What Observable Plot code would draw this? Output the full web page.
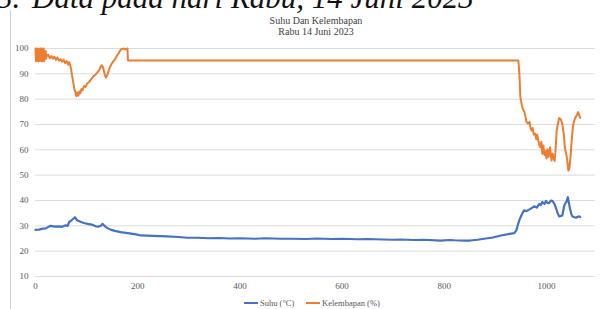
<!DOCTYPE html>
<html>
<head>
<meta charset="utf-8">
<script src="https://cdn.jsdelivr.net/npm/d3@7"></script>
<script src="https://cdn.jsdelivr.net/npm/@observablehq/plot@0.6"></script>
<style>
  html, body { margin: 0; padding: 0; background: #fff; }
  #wrap { position: relative; width: 610px; height: 309px; overflow: hidden; background: #fff; }
  .heading { position: absolute; top: -18px; font-family: "Liberation Serif", serif; font-style: italic; font-size: 31px; line-height: 31px; color: #111; white-space: pre; }
  #frame { position: absolute; left: 10px; top: 10px; width: 0; height: 299px; border-left: 1px solid #d0d0d0; }
  #title { position: absolute; left: 0; width: 632px; top: 15px; text-align: center; font-family: "Liberation Serif", serif; font-size: 10px; line-height: 11px; color: #404040; }
  #chart { position: absolute; left: 0; top: 0; }
  #chart svg, #chart svg text { font-family: "Liberation Serif", serif !important; }
  .leg { position: absolute; top: 298px; font-family: "Liberation Serif", serif; font-size: 8.5px; line-height: 11px; color: #595959; white-space: nowrap; }
  .sw { display: inline-block; width: 14px; height: 2px; vertical-align: middle; margin-right: 2px; position: relative; top: -1px; }
</style>
</head>
<body>
<div id="wrap">
  <div class="heading" style="left:-3px">3.</div>
  <div class="heading" style="left:32px">Data pada hari Rabu, 14 Juni 2023</div>
  <div id="frame"></div>
  <div id="chart"></div>
  <div id="title">Suhu Dan Kelembapan<br>Rabu 14 Juni 2023</div>
  <div class="leg" id="leg1" style="left:244px"><span class="sw" style="background:#4472C4"></span>Suhu (°C)</div>
  <div class="leg" id="leg2" style="left:306px"><span class="sw" style="background:#ED7D31"></span>Kelembapan (%)</div>
</div>
<script>
const yTicks = [10, 20, 30, 40, 50, 60, 70, 80, 90, 100];
const xTicks = [0, 200, 400, 600, 800, 1000];

const seriesNames = ["Suhu (°C)", "Kelembapan (%)"];
const seriesColors = ["#4472C4", "#ED7D31"];

// Suhu (temperature)
const tempIdx = [0, 7, 14, 20, 27, 30, 38, 46, 52, 59, 63, 66, 69, 72, 75, 77, 80, 82, 86, 89, 95, 102, 110, 118, 124, 128, 131, 134, 138, 142, 147, 155, 167, 177, 187, 197, 206, 230, 258, 280, 297, 317, 340, 360, 380, 400, 430, 450, 480, 500, 530, 550, 580, 600, 630, 650, 680, 700, 715, 740, 760, 793, 810, 820, 840, 851, 865, 878, 895, 911, 925, 937, 941, 945, 948, 952, 956, 961, 966, 971, 976, 981, 986, 989, 992, 996, 999, 1002, 1005, 1009, 1012, 1016, 1019, 1022, 1025, 1028, 1031, 1035, 1039, 1042, 1044, 1046, 1049, 1051, 1055, 1058, 1061, 1064, 1066];
const tempVal = [28.4, 28.5, 28.9, 29.0, 29.8, 30.0, 29.7, 29.8, 29.6, 30.2, 30.0, 31.5, 31.9, 32.5, 33.0, 33.4, 32.6, 32.1, 31.8, 31.5, 31.1, 30.8, 30.5, 29.8, 29.7, 30.0, 30.8, 30.2, 29.5, 29.0, 28.5, 28.0, 27.5, 27.2, 26.9, 26.6, 26.2, 26.0, 25.8, 25.6, 25.3, 25.3, 25.1, 25.2, 25.0, 25.1, 24.9, 25.1, 24.9, 24.9, 24.8, 25.0, 24.8, 24.9, 24.7, 24.8, 24.6, 24.5, 24.6, 24.4, 24.5, 24.2, 24.4, 24.3, 24.2, 24.2, 24.5, 24.9, 25.4, 26.2, 26.7, 27.1, 28.2, 31.0, 32.8, 34.6, 36.1, 35.8, 36.4, 37.0, 37.7, 37.2, 38.7, 38.2, 39.4, 38.6, 39.8, 39.0, 39.0, 40.0, 39.8, 38.5, 36.8, 35.0, 33.7, 33.9, 34.1, 38.1, 39.5, 41.3, 39.0, 36.8, 34.5, 33.7, 33.4, 33.2, 33.6, 33.7, 33.5];

// Kelembapan (humidity)
const humIdx = [0, 1, 2, 3, 4, 5, 6, 7, 8, 9, 10, 11, 12, 13, 14, 15, 16, 17, 18, 19, 20, 21, 22, 25, 28, 31, 34, 37, 40, 43, 46, 49, 52, 55, 58, 61, 64, 66, 68, 70, 72, 74, 76, 78, 80, 82, 84, 86, 88, 90, 92, 95, 98, 101, 105, 108, 111, 114, 117, 119, 122, 125, 128, 130, 132, 134, 136, 138, 141, 144, 147, 149, 152, 155, 158, 160, 163, 165, 167, 170, 173, 176, 179, 180, 181, 945, 947, 949, 952, 954, 957, 959, 961, 964, 967, 969, 971, 973, 975, 978, 980, 982, 984, 986, 988, 990, 992, 994, 996, 998, 1000, 1002, 1004, 1007, 1009, 1010, 1012, 1014, 1016, 1018, 1020, 1023, 1025, 1028, 1031, 1034, 1036, 1038, 1040, 1042, 1043, 1045, 1047, 1049, 1051, 1053, 1056, 1059, 1062, 1064, 1066];
const humVal = [100, 95, 100, 96, 99, 95, 100, 95, 99, 96, 100, 95, 100, 95, 99, 96, 100, 95, 98, 96, 99, 96, 97, 97.5, 96.2, 97.0, 96.0, 96.8, 95.5, 96.4, 95.2, 95.8, 94.8, 95.6, 94.2, 95.0, 93.6, 94.6, 93.4, 91.5, 88.8, 86.5, 84.0, 82.9, 81.2, 82.6, 81.4, 83.0, 82.4, 84.0, 83.5, 85.2, 84.8, 86.2, 86.8, 87.6, 88.4, 89.2, 89.6, 90.1, 90.8, 91.6, 93.0, 93.4, 92.6, 91.0, 89.4, 88.5, 89.8, 91.8, 93.2, 94.0, 94.8, 95.6, 96.6, 97.4, 98.2, 99.0, 99.6, 99.8, 100, 99.6, 100, 100, 95.3, 95.3, 90.0, 80.8, 77.5, 76.0, 74.9, 73.0, 71.0, 70.4, 71.0, 68.5, 67.6, 68.6, 66.0, 66.4, 64.2, 66.0, 63.7, 62.0, 61.0, 63.2, 58.5, 61.7, 58.0, 59.5, 56.6, 60.2, 57.2, 61.0, 57.0, 55.8, 58.5, 56.6, 55.6, 60.5, 67.6, 71.0, 72.6, 72.0, 70.3, 66.0, 61.0, 59.0, 57.0, 53.5, 51.8, 53.0, 57.0, 62.5, 67.6, 70.5, 72.6, 73.5, 74.9, 73.8, 72.6];

const temp = tempIdx.map((x, i) => ({x, y: tempVal[i], s: seriesNames[0]}));
const hum = humIdx.map((x, i) => ({x, y: humVal[i], s: seriesNames[1]}));

const chart = Plot.plot({
  width: 610,
  height: 309,
  marginLeft: 35,
  marginRight: 15,
  marginTop: 48,
  marginBottom: 33,
  style: {fontFamily: "'Liberation Serif', serif", fontSize: "9px", color: "#595959", background: "transparent", overflow: "visible"},
  x: {domain: [0, 1096], label: null},
  y: {domain: [10, 100], label: null},
  marks: [
    Plot.gridY(yTicks, {stroke: "#dcdcdc", strokeOpacity: 1, strokeWidth: 1}),
    Plot.axisY(yTicks, {tickSize: 0, tickPadding: 7, label: null, fill: "#595959", tickFormat: d => String(d)}),
    Plot.axisX(xTicks, {tickSize: 0, tickPadding: 6, label: null, fill: "#595959", tickFormat: d => String(d)}),
    Plot.line(temp, {x: "x", y: "y", stroke: seriesColors[0], strokeWidth: 2.2, strokeLinejoin: "round", strokeLinecap: "round"}),
    Plot.line(hum, {x: "x", y: "y", stroke: seriesColors[1], strokeWidth: 2, strokeLinejoin: "round", strokeLinecap: "round"})
  ]
});
document.getElementById("chart").appendChild(chart);
</script>
</body>
</html>
